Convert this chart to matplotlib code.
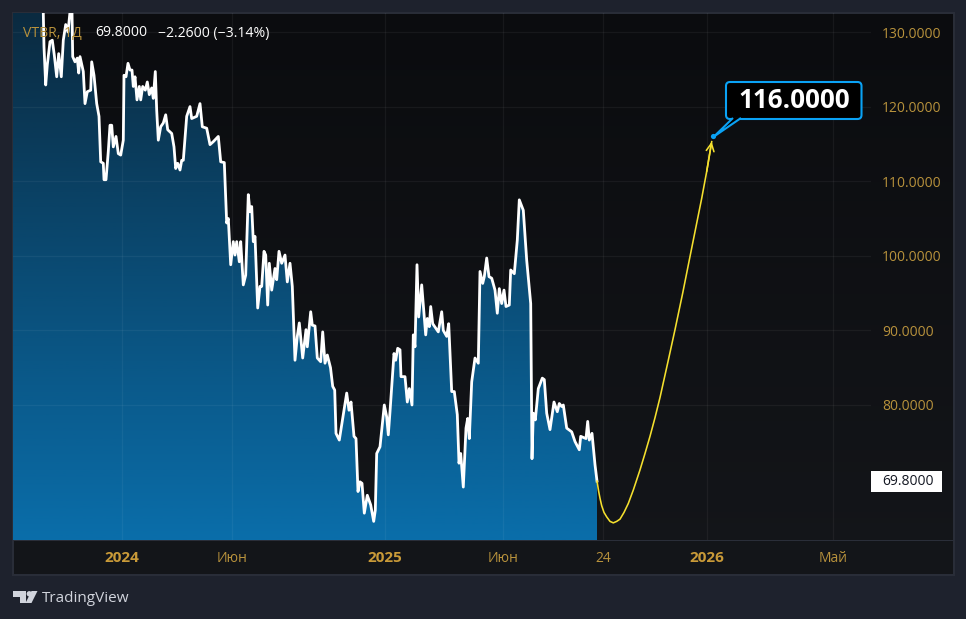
import matplotlib.pyplot as plt
import numpy as np
from matplotlib.colors import to_rgb
from matplotlib.patches import FancyBboxPatch, Polygon, Rectangle, Circle
from matplotlib.transforms import IdentityTransform

plt.rcParams['font.family'] = ['Open Sans', 'Noto Sans', 'DejaVu Sans']

bars = [0, 28, 30.3, 31, 32.7, 34.3, 37, 39.3, 41.3, 43.7, 45.7, 48.3, 50.3, 52.7, 55, 57, 59, 59.7, 62, 64.3,
        65.7, 67, 70.3, 72, 74.3, 77.7, 78.7, 81, 83.7, 86, 87.7, 90.3, 91, 93, 95.3, 97, 98.7, 100.3, 103, 105.3,
        107.7, 110.3, 111, 113, 115, 117, 119, 120.3, 122, 124, 126.3, 127.7, 129.7, 132.3, 134.3, 136.3, 138.7,
        140.3, 142.3, 143.7, 145.3, 147.7, 150.3, 152.7, 154.7, 158.7, 161, 162.7, 164.7, 167, 168.7, 170.3, 173.7,
        177, 178.7, 183.7, 187, 189.3, 193.7, 197, 200.3, 205.3, 207.7, 211.3, 212, 213.7, 215.3, 217.7, 220.3, 222,
        223.7, 226.3, 227.7, 230.3, 232.7, 235.3, 237, 238.7, 240.3, 242, 244.7, 247, 248.7, 251, 252.7, 254.7,
        256.3, 258.7, 262, 263.7, 266, 268.7, 272, 274.3, 277, 279.3, 282, 284.3, 286.3, 289.7, 293, 294.3, 297.7,
        299.3, 302, 304.3, 307.7, 309.7, 312, 314.3, 317.5, 319.7, 321.7, 323, 326.3, 333.7, 336, 338, 341, 343, 345,
        347, 349, 351.3, 354.3, 357.7, 360.7, 362.3, 363.7, 367, 371.3, 373.7, 375.3, 377, 381, 382.7, 384.7, 387,
        388, 392, 394.3, 396.3, 399, 400.3, 402, 404, 405.7, 408.7, 412.7, 414.3, 416.3, 417.7, 419.7, 425.3, 428.7,
        430.3, 433.7, 435.7, 438.7, 441.3, 444.3, 446, 447.7, 450.3, 453, 454.7, 456.3, 458.7, 462, 465.3, 467,
        469.7, 471.3, 473.7, 476, 478.7, 482, 484.3, 486.3, 488.7, 491, 493, 496.3, 497.7, 501.3, 504.3, 506.3,
        510.3, 513.7, 517.7, 519, 520.3, 522.3, 525.3, 529.3, 531.3, 533.7, 537, 541, 544.3, 546.3, 548.7, 550.3,
        553.7, 558.7, 562, 566.3, 567.7, 573, 574.7, 576.3, 579, 582, 584]
prices = [137, 136, 132.5, 128.0, 122.9, 125.6, 128.7, 128.9, 126.9, 124.0, 127.1, 124.0, 128.9, 131.0, 130.0, 132.7,
          132.7, 126.7, 126.0, 126.5, 124.5, 126.7, 124.7, 120.4, 122.0, 122.2, 126.0, 124.2, 120.4, 118.7, 112.6,
          112.4, 110.2, 110.2, 114.0, 117.5, 117.5, 114.6, 116.0, 113.7, 113.5, 115.5, 124.2, 124.0, 125.8, 124.9,
          124.9, 122.7, 124.0, 120.9, 122.7, 120.9, 122.7, 122.2, 123.3, 121.6, 122.5, 121.1, 124.7, 119.5, 115.5,
          117.3, 117.8, 118.9, 116.9, 116.4, 114.6, 111.7, 112.4, 111.5, 112.8, 112.8, 118.7, 120.0, 118.4, 118.7,
          120.4, 117.3, 117.1, 114.9, 115.3, 116.0, 112.6, 112.5, 110.2, 104.4, 105.0, 98.8, 101.9, 100.1, 101.9,
          99.2, 101.9, 96.1, 97.4, 108.2, 105.9, 106.6, 101.9, 102.6, 93.0, 95.9, 95.9, 100.6, 100.1, 93.4, 99.0,
          95.4, 98.3, 96.8, 100.6, 99.0, 100.1, 96.5, 99.0, 95.9, 86.0, 89.2, 91.0, 86.3, 90.1, 87.8, 92.5, 90.7,
          90.6, 86.3, 85.8, 89.8, 85.6, 86.7, 85.0, 82.5, 82.0, 76.2, 75.3, 81.6, 79.3, 80.4, 75.8, 75.5, 68.4, 69.7,
          69.5, 65.5, 67.9, 66.6, 64.4, 65.9, 73.5, 74.4, 80.0, 78.4, 76.0, 79.1, 86.9, 86.0, 87.6, 87.4, 83.8, 83.8,
          80.4, 82.2, 80.0, 89.4, 87.8, 98.8, 91.8, 96.1, 89.4, 91.6, 90.5, 93.2, 90.9, 89.8, 92.5, 90.0, 89.2, 90.9,
          81.8, 81.8, 78.7, 72.2, 73.5, 69.0, 76.9, 78.2, 75.5, 83.1, 86.3, 85.6, 97.9, 96.3, 97.2, 99.7, 97.2, 97.0,
          95.4, 92.3, 95.6, 93.6, 95.4, 93.2, 93.4, 98.1, 97.6, 102.1, 107.5, 106.1, 99.4, 93.6, 72.8, 78.9, 78.0,
          82.2, 83.6, 83.4, 78.9, 76.7, 80.4, 79.1, 80.2, 79.8, 80.0, 76.9, 76.4, 75.1, 74.0, 75.8, 75.5, 77.8, 75.3,
          76.2, 72.0, 69.8]

# hand drawn forecast from the last close up to the target
curve_bars = [584, 585.7, 587, 588.7, 591, 593.7, 597, 600.3, 603.7, 607, 611, 615.3, 620.3, 627, 632, 637, 642, 647,
              655.3, 662, 669.7, 677, 683, 688.7, 693.7, 698.7]
curve_prices = [69.8, 68.4, 67.5, 66.5, 65.6, 65.0, 64.4, 64.2, 64.4, 64.7, 65.6, 66.8, 68.6, 71.3, 73.5, 75.8, 78.3,
                81.0, 86.0, 90.1, 95.0, 99.9, 103.9, 107.7, 111.3, 115.3]
target_bar = 700
target = 116.0

ticker = "VTBR, 1Д"
change = "−2.2600 (−3.14%)"
y_ticks = [130, 120, 110, 100, 90, 80]
x_ticks = [109, 219, 372, 490, 590, 694, 820]
x_labels = ["2024", "Июн", "2025", "Июн", "24", "2026", "Май"]
bold_labels = ["2024", "2025", "2026"]

GOLD = "#b8923c"
BORDER = "#2a2e39"
BLUE = "#0aa2f5"
W, H = 966, 619


def box(left, top, right, bottom):
    # figure fractions from pixel edges, y counted from the top
    return [left / W, 1 - bottom / H, (right - left) / W, (bottom - top) / H]


def vgrad(c_top, c_bot, n=256):
    t = np.linspace(0, 1, n)[:, None, None]
    return (1 - t) * np.array(to_rgb(c_top))[None, None, :] + t * np.array(to_rgb(c_bot))[None, None, :]


fig = plt.figure(figsize=(W / 100, H / 100), dpi=100, facecolor="#1e222d")

# pane background, including the price scale and the time strip
bg = fig.add_axes(box(13, 13, 954, 575))
bg.imshow(vgrad("#0b0c0f", "#14161a"), aspect="auto", extent=(0, 1, 0, 1))
bg.set_xticks([])
bg.set_yticks([])
for s in bg.spines.values():
    s.set_color(BORDER)
    s.set_linewidth(1.4)

ax = fig.add_axes(box(13, 13, 871, 540))
ax.patch.set_alpha(0)
ax.set_xlim(0, 858)
ax.set_ylim(80 - 135 / 7.46, 80 + 392 / 7.46)

# area under the price with a vertical gradient
poly = ax.fill_between(bars, prices, ax.get_ylim()[0], color="none", zorder=1)
img = ax.imshow(vgrad("#0a2a40", "#0a6eaa"), aspect="auto", zorder=1,
                extent=(0, 858, ax.get_ylim()[0], ax.get_ylim()[1]))
ax.set_xlim(0, 858)
img.set_clip_path(poly.get_paths()[0], transform=ax.transData)

ax.plot(bars, prices, color="white", lw=2.0, solid_joinstyle="round", zorder=3)
ax.plot(curve_bars, curve_prices, color="#f5e02e", lw=1.15, zorder=3)
ax.annotate("", xy=(curve_bars[-1], curve_prices[-1]), xytext=(curve_bars[-2], curve_prices[-2]),
            arrowprops=dict(arrowstyle="->", color="#f5e02e", lw=1.15, mutation_scale=14, shrinkA=0, shrinkB=0),
            zorder=3)
ax.scatter([target_bar], [target], s=14, color=BLUE, zorder=5, linewidths=0)

ax.set_axisbelow("line")
ax.grid(True, color="white", alpha=0.05, lw=0.9)
ax.set_xticks(x_ticks)
ax.set_xticklabels(x_labels, color=GOLD, fontsize=10)
for lab in ax.get_xticklabels():
    if lab.get_text() in bold_labels:
        lab.set_fontweight("bold")
        lab.set_fontsize(11)
        lab.set_color("#c99a38")
ax.yaxis.tick_right()
ax.set_yticks(y_ticks)
ax.set_yticklabels([f"{v:.4f}" for v in y_ticks], color=GOLD, fontsize=10)
ax.tick_params(axis="y", length=0, pad=7.9)
ax.tick_params(axis="x", length=0, pad=8)
for name, s in ax.spines.items():
    s.set_visible(False)

# axis line under the plot runs through the price scale
fig.add_artist(Rectangle((13, H - 541), 941, 1.4, transform=IdentityTransform(), color=BORDER, lw=0))

# last price tag on the scale
fig.add_artist(Rectangle((871, H - 492), 71, 21, transform=IdentityTransform(), color="white", lw=0, zorder=6))
tag_y = fig.transFigure.inverted().transform(ax.transData.transform((0, prices[-1])))[1]
fig.text(882 / W, tag_y, f"{prices[-1]:.4f}", va="center", ha="left", color="#131722", fontsize=10, zorder=7)

# callout at the target
fig.add_artist(FancyBboxPatch((727, H - 118), 133.5, 35, boxstyle="round,pad=1,rounding_size=4",
                              transform=IdentityTransform(), fc="black", ec=BLUE, lw=1.5, zorder=6))
fig.add_artist(Polygon([(733, H - 118), (714, H - 136.5), (741, H - 118)], closed=False,
                       transform=IdentityTransform(), fc="black", ec=BLUE, lw=1.5, zorder=7))
fig.text(794 / W, 1 - 100 / H, f"{target:.4f}", color="white", fontsize=18.7, fontweight="bold",
         ha="center", va="center", zorder=8)

# legend row
fig.text(23 / W, 1 - 33 / H, ticker, color=GOLD, fontsize=10.1, va="center", zorder=8)
fig.text(95 / W, 1 - 33 / H, f"{prices[-1]:.4f}", color="white", fontsize=10.1, va="center", zorder=8)
fig.text(158 / W, 1 - 33 / H, change, color="white", fontsize=10.1, va="center", zorder=8)

# TradingView mark
logo = "#d1d4dc"
fig.add_artist(Polygon([(13, H - 591), (25.5, H - 591), (25.5, H - 603), (19.5, H - 603), (19.5, H - 597), (13, H - 597)],
                       transform=IdentityTransform(), fc=logo, lw=0))
fig.add_artist(Circle((29.3, H - 593.8), 2.7, transform=IdentityTransform(), fc=logo, lw=0))
fig.add_artist(Polygon([(31.5, H - 591), (37.5, H - 591), (31.5, H - 603), (25.5, H - 603)],
                       transform=IdentityTransform(), fc=logo, lw=0))
fig.text(42 / W, 1 - 598 / H, "TradingView", color=logo, fontsize=11, va="center")

fig.savefig("out.png", dpi=100, facecolor=fig.get_facecolor())
